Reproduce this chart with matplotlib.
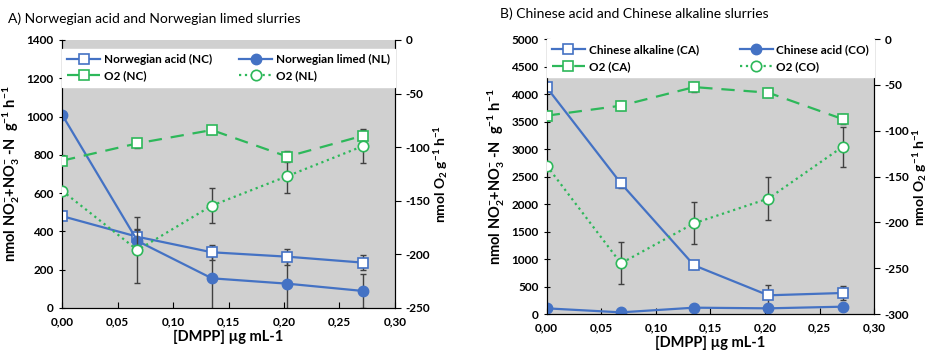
import matplotlib
matplotlib.use('Agg')
import matplotlib.pyplot as plt
from matplotlib.ticker import FuncFormatter

plt.rcParams['font.family'] = ['Lato', 'DejaVu Sans']
plt.rcParams['mathtext.fontset'] = 'custom'
plt.rcParams['mathtext.rm'] = 'Lato:bold'
plt.rcParams['mathtext.it'] = 'Lato:bold'
plt.rcParams['mathtext.bf'] = 'Lato:bold'
plt.rcParams['mathtext.default'] = 'rm'

# DMPP doses (shared by both panels)
dmpp = [0.0, 0.068, 0.135, 0.203, 0.271]

# panel A: Norwegian slurries
nc_n = [480, 372, 291, 268, 237]
nc_n_err = [8, 40, 40, 42, 40]
nl_n = [1010, 350, 155, 127, 89]
nl_n_err = [8, 60, 160, 130, 90]
nc_o2 = [-112.6, -96.4, -84.0, -108.8, -89.3]
nc_o2_err = [2, 4, 4, 5, 5]
nl_o2 = [-140.6, -196.0, -154.5, -127.0, -99.0]
nl_o2_err = [2, 31, 16, 16, 16]

# panel B: Chinese slurries
ca_n = [4122, 2376, 885, 340, 382]
ca_n_err = [30, 90, 60, 190, 125]
co_n = [103, 30, 115, 103, 133]
co_n_err = [10, 10, 10, 10, 10]
ca_o2 = [-83.6, -72.7, -52.4, -58.5, -87.3]
ca_o2_err = [2, 5, 5, 5, 5]
co_o2 = [-138.0, -244.7, -201.0, -174.0, -117.5]
co_o2_err = [2, 23, 23, 23, 22]

BLUE = '#4472C4'
GREEN = '#2DB85A'
ERR = '#404040'
GRAY = '#D0D0D0'

comma = FuncFormatter(lambda v, p: f'{v:.2f}'.replace('.', ','))
intfmt = FuncFormatter(lambda v, p: f'{v:.0f}')


def errs(ax, y, e):
    ax.errorbar(dmpp, y, yerr=e, fmt='none', ecolor=ERR, elinewidth=1,
                capsize=2.5, capthick=1, zorder=1)


def panel(rect, n1, n1e, n2, n2e, o1, o1e, o2, o2e, labels, ylim_l, lstep,
          ylim_r, leg_h):
    ax = fig.add_axes(rect)
    ax.set_facecolor(GRAY)
    errs(ax, n1, n1e)
    errs(ax, n2, n2e)
    h1, = ax.plot(dmpp, n1, '-s', color=BLUE, lw=1.6, ms=7, mfc='white',
                  mec=BLUE, mew=1.2, zorder=3)
    h2, = ax.plot(dmpp, n2, '-o', color=BLUE, lw=1.6, ms=7.5, mfc=BLUE,
                  mec=BLUE, zorder=3)
    ax.set_xlim(0, 0.30)
    ax.set_ylim(*ylim_l)
    ax.set_yticks(range(ylim_l[0], ylim_l[1] + 1, lstep))
    ax.set_xticks([0, 0.05, 0.10, 0.15, 0.20, 0.25, 0.30])
    ax.xaxis.set_major_formatter(comma)
    ax.yaxis.set_major_formatter(intfmt)
    ax.tick_params(axis='x', direction='in', length=4, labelsize=8.5, pad=6)
    ax.tick_params(axis='y', direction='inout', length=5, labelsize=8.5)
    for lab in ax.get_xticklabels() + ax.get_yticklabels():
        lab.set_fontweight('bold')
    ax.spines['top'].set_visible(False)
    ax.set_xlabel('[DMPP] µg mL-1', fontsize=10.5, fontweight='bold', labelpad=2)
    ax.set_ylabel(r'nmol NO$_2^{-}$+NO$_3^{-}$ -N  g$^{-1}$ h$^{-1}$',
                  fontsize=10.5, fontweight='bold', labelpad=3)

    ax2 = ax.twinx()
    errs(ax2, o1, o1e)
    errs(ax2, o2, o2e)
    h3, = ax2.plot(dmpp, o1, '--s', color=GREEN, lw=1.6, dashes=(6, 4), ms=7,
                   mfc='white', mec=GREEN, mew=1.2, zorder=3)
    h4, = ax2.plot(dmpp, o2, ':o', color=GREEN, lw=1.6, ms=7.5, mfc='white',
                   mec=GREEN, mew=1.2, zorder=3)
    ax2.set_ylim(*ylim_r)
    ax2.yaxis.set_major_formatter(intfmt)
    ax2.tick_params(axis='y', direction='out', length=4, labelsize=8.5)
    for lab in ax2.get_yticklabels():
        lab.set_fontweight('bold')
    ax2.spines['top'].set_visible(False)
    ax2.set_ylabel(r'nmol O$_2$ g$^{-1}$ h$^{-1}$', fontsize=10,
                   fontweight='bold', labelpad=1)

    leg = ax2.legend([h1, h3, h2, h4], [labels[0], labels[2], labels[1], labels[3]],
                     ncol=2, loc='lower left', mode='expand',
                     bbox_to_anchor=(0, 1 - leg_h, 1, leg_h), borderaxespad=0,
                     frameon=True, fancybox=False, handlelength=2.8,
                     handletextpad=0.3, columnspacing=1.0,
                     prop={'weight': 'bold', 'size': 8.5}, borderpad=0.45,
                     labelspacing=0.45)
    leg.get_frame().set_facecolor('white')
    leg.get_frame().set_edgecolor('white')
    leg.get_frame().set_alpha(1)
    return ax, ax2


fig = plt.figure(figsize=(9.3, 3.58), dpi=100)

panel([0.0667, 0.1397, 0.358, 0.7486], nc_n, nc_n_err, nl_n, nl_n_err,
      nc_o2, nc_o2_err, nl_o2, nl_o2_err,
      ['Norwegian acid (NC)', 'Norwegian limed (NL)', 'O2 (NC)', 'O2 (NL)'],
      (0, 1400), 200, (-250, 0), 0.175)

panel([0.5878, 0.1229, 0.3523, 0.768], ca_n, ca_n_err, co_n, co_n_err,
      ca_o2, ca_o2_err, co_o2, co_o2_err,
      ['Chinese alkaline (CA)', 'Chinese acid (CO)', 'O2 (CA)', 'O2 (CO)'],
      (0, 5000), 500, (-300, 0), 0.138)

fig.text(0.009, 0.948, 'A) Norwegian acid and Norwegian limed slurries',
         fontsize=10, va='center')
fig.text(0.538, 0.962, 'B) Chinese acid and Chinese alkaline slurries',
         fontsize=10, va='center')

fig.savefig('out.png', dpi=100)
